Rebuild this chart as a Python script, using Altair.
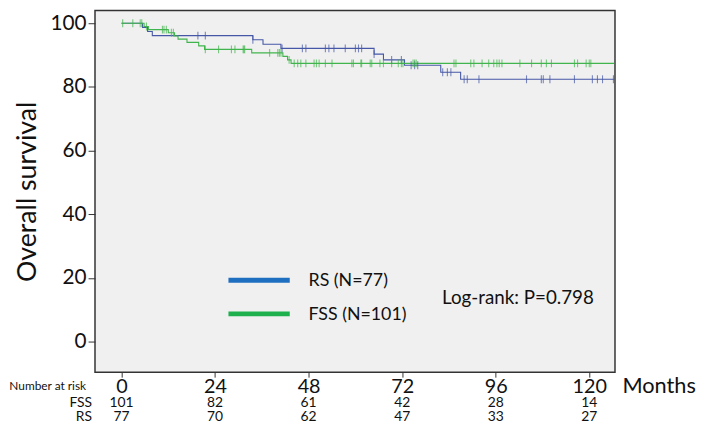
import altair as alt
import pandas as pd

# ---- Kaplan-Meier step data (months, survival %) ----
rs_step_time = [0, 5.4, 6.7, 7.9, 33.7, 36.3, 40.9, 64.8, 67.2, 72.6, 81.9, 87.0, 126.4]
rs_step_surv = [100, 98.7, 97.4, 96.1, 94.8, 93.4, 92.1, 90.3, 88.5, 86.8, 84.6, 82.4, 82.4]

fss_step_time = [0, 5.8, 6.9, 12.0, 13.6, 14.5, 16.8, 19.8, 21.3, 33.4, 41.4, 42.6, 43.5, 126.4]
fss_step_surv = [100, 99.0, 98.0, 97.0, 96.0, 95.0, 94.0, 92.9, 91.8, 90.7, 89.6, 88.5, 87.4, 87.4]

# censored observation times (months)
rs_censor = [19.6, 21.5, 33.7, 41.2, 46.4, 47.3, 52.3, 53.2, 54.5, 57.4, 60.0, 60.8, 61.6,
             64.8, 69.3, 71.8, 74.3, 75.2, 76.0, 82.4, 83.6, 84.5, 87.9, 88.7, 91.7,
             103.9, 107.7, 108.2, 109.9, 116.2, 120.8, 122.1, 123.4, 126.2]
fss_censor = [0.3, 2.9, 4.8, 5.2, 6.4, 10.5, 10.9, 11.5, 12.8, 13.3, 21.5, 24.9, 28.2, 29.1,
              31.2, 31.4, 31.6, 38.0, 40.1, 40.5, 40.9, 43.0, 44.3, 45.2, 46.0, 47.3, 49.4,
              50.0, 50.7, 52.3, 54.0, 59.1, 59.5, 61.4, 61.6, 63.8, 64.2, 66.3, 67.2, 69.3,
              71.0, 71.8, 72.2, 74.8, 75.2, 75.6, 85.3, 85.8, 89.6, 90.4, 92.5, 94.2, 95.5,
              96.3, 96.9, 97.6, 102.2, 105.2, 107.7, 109.0, 110.3, 116.2, 117.0, 119.2,
              120.0, 120.4]

# ---- Number at risk table ----
risk_months = [0, 24, 48, 72, 96, 120]
fss_risk = [101, 82, 61, 42, 28, 14]
rs_risk = [77, 70, 62, 47, 33, 27]

groups = ["RS", "FSS"]
line_colors = ["#4557a6", "#41b54d"]
legend_colors = ["#1f6fc0", "#1db04d"]
legend_labels = ["RS (N=77)", "FSS (N=101)"]


def surv_at(times, survs, t):
    s = survs[0]
    for tt, ss in zip(times, survs):
        if t >= tt:
            s = ss
    return s


line_rows = []
for t, s in zip(rs_step_time, rs_step_surv):
    line_rows.append({"month": t, "surv": s, "group": "RS"})
for t, s in zip(fss_step_time, fss_step_surv):
    line_rows.append({"month": t, "surv": s, "group": "FSS"})
lines_df = pd.DataFrame(line_rows)

cens_rows = []
for t in rs_censor:
    cens_rows.append({"month": t, "surv": surv_at(rs_step_time, rs_step_surv, t), "group": "RS"})
for t in fss_censor:
    cens_rows.append({"month": t, "surv": surv_at(fss_step_time, fss_step_surv, t), "group": "FSS"})
cens_df = pd.DataFrame(cens_rows)

fss_risk_df = pd.DataFrame({"month": risk_months, "n": fss_risk})
rs_risk_df = pd.DataFrame({"month": risk_months, "n": rs_risk})

W, H = 526, 366
FONT = "Lato"

xscale = alt.Scale(domain=[-6.8, 126.6], nice=False, zero=False)
yscale = alt.Scale(domain=[-9.6, 104.04], nice=False, zero=False)
cscale = alt.Scale(domain=groups, range=line_colors)

xaxis = alt.Axis(values=risk_months, labelFontSize=20, labelColor="#111", tickSize=5,
                 tickColor="#333", labelPadding=0, grid=False, domain=False,
                 title="Months", titleFontSize=22, titleFontWeight="normal", titleColor="#111",
                 titleAlign="left", titleBaseline="middle", titleX=W + 7, titleY=14,
                 labelFlush=False)
yaxis = alt.Axis(values=[0, 20, 40, 60, 80, 100], labelFontSize=21, labelColor="#111",
                 tickSize=7, tickColor="#333", labelPadding=2, grid=False, domain=False,
                 title="Overall survival", titleFontSize=27, titleFontWeight="normal",
                 titleColor="#111", titleAngle=270, titleAlign="center", titleBaseline="middle",
                 titleX=-68, titleY=H / 2)

lines = alt.Chart(lines_df).mark_line(interpolate="step-after", strokeWidth=1.1).encode(
    x=alt.X("month:Q", scale=xscale, axis=xaxis),
    y=alt.Y("surv:Q", scale=yscale, axis=yaxis),
    color=alt.Color("group:N", scale=cscale, legend=None),
    detail="group:N",
)

ticks = alt.Chart(cens_df).mark_tick(orient="vertical", size=8, thickness=1.1).encode(
    x=alt.X("month:Q", scale=xscale),
    y=alt.Y("surv:Q", scale=yscale),
    color=alt.Color("group:N", scale=cscale, legend=None),
)

one = pd.DataFrame({"k": [0]})
leg_layers = []
for lab, col, yy in zip(legend_labels, legend_colors, [273, 307]):
    leg_layers.append(
        alt.Chart(one).mark_rule(strokeWidth=5, color=col).encode(
            x=alt.value(135), x2=alt.value(197), y=alt.value(yy))
    )
    leg_layers.append(
        alt.Chart(one).mark_text(align="left", baseline="middle", fontSize=18, color="#111",
                                 font=FONT, text=lab).encode(
            x=alt.value(216), y=alt.value(yy + 1))
    )

logrank = alt.Chart(one).mark_text(
    align="left", baseline="middle", fontSize=19, color="#111", font=FONT,
    text="Log-rank: P=0.798").encode(x=alt.value(351), y=alt.value(291))

risk_layers = []
for df_r, lab, yy in [(fss_risk_df, "FSS", H + 31.5), (rs_risk_df, "RS", H + 45.5)]:
    risk_layers.append(
        alt.Chart(df_r).mark_text(baseline="middle", fontSize=14, color="#111",
                                  font=FONT).encode(
            x=alt.X("month:Q", scale=xscale), y=alt.value(yy), text="n:Q")
    )
    risk_layers.append(
        alt.Chart(one).mark_text(align="right", baseline="middle", fontSize=14, color="#111",
                                 font=FONT, text=lab).encode(
            x=alt.value(-3), y=alt.value(yy))
    )

nar = alt.Chart(one).mark_text(
    align="right", baseline="middle", fontSize=12, color="#111", font=FONT,
    text="Number at risk").encode(x=alt.value(-9), y=alt.value(H + 14))

chart = alt.layer(lines, ticks, *leg_layers, logrank, *risk_layers, nar).properties(
    width=W, height=H,
    autosize=alt.AutoSizeParams(type="none"),
    padding={"left": 88, "top": 0, "right": 87, "bottom": 52},
).configure(font=FONT).configure_view(
    fill="#f0f0f0", stroke="#333", strokeWidth=1.5
)

chart.save("out.html", embed_options={"renderer": "svg", "actions": False})
